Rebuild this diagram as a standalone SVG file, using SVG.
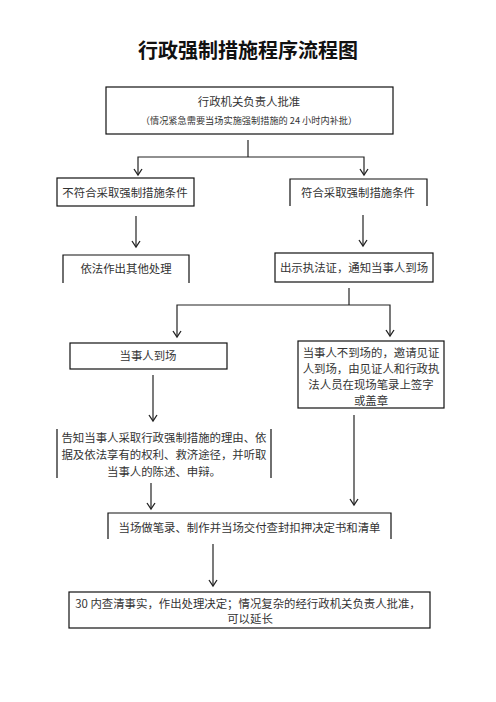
<svg xmlns="http://www.w3.org/2000/svg" width="496" height="702" viewBox="0 0 496 702">
<style>
.b{fill:none;stroke:#111;stroke-width:1.2}
.c{fill:none;stroke:#222;stroke-width:1.2}
.t{font-family:"Noto Sans CJK SC","Liberation Serif",sans-serif;font-size:11.4px;fill:#333;text-anchor:middle;dominant-baseline:central}
.s{font-size:9.2px}
.title{font-family:"Noto Sans CJK SC","Liberation Sans",sans-serif;font-size:20px;font-weight:bold;fill:#111;text-anchor:middle;dominant-baseline:central}
</style>
<defs>
<marker id="a" markerUnits="userSpaceOnUse" markerWidth="10" markerHeight="10" refX="8" refY="5" orient="auto" viewBox="0 0 10 10">
<path d="M2,1 L8,5 L2,9" fill="none" stroke="#222" stroke-width="1.3"/>
</marker>
</defs>
<rect width="496" height="702" fill="#fff"/>
<text class="title" x="248" y="49">行政强制措施程序流程图</text>

<g id="connectors">
<path class="c" d="M248,140 V157"/>
<path class="c" d="M248,157 H138 V175" marker-end="url(#a)"/>
<path class="c" d="M248,157 H364 V175" marker-end="url(#a)"/>
<path class="c" d="M136,216 V247" marker-end="url(#a)"/>
<path class="c" d="M363,215 V246" marker-end="url(#a)"/>
<path class="c" d="M349,288 V305"/>
<path class="c" d="M349,305 H177 V337" marker-end="url(#a)"/>
<path class="c" d="M349,305 H390 V336" marker-end="url(#a)"/>
<path class="c" d="M153,375 V421" marker-end="url(#a)"/>
<path class="c" d="M354,415 V505" marker-end="url(#a)"/>
<path class="c" d="M151,483 V509" marker-end="url(#a)"/>
<path class="c" d="M213,544 V586" marker-end="url(#a)"/>
</g>

<g id="n1">
<rect class="b" x="106" y="87" width="287" height="47"/>
<text class="t" x="249" y="101">行政机关负责人批准</text>
<text class="t s" x="249" y="120">（情况紧急需要当场实施强制措施的 24 小时内补批）</text>
</g>
<g id="n2">
<rect class="b" x="57" y="178" width="137" height="28"/>
<text class="t" x="125" y="192">不符合采取强制措施条件</text>
</g>
<g id="n3">
<path class="b" d="M290,206 V179 H427 V206"/>
<text class="t" x="358" y="192">符合采取强制措施条件</text>
</g>
<g id="n4">
<path class="b" d="M63,283 V255 H189 V283"/>
<text class="t" x="126" y="268">依法作出其他处理</text>
</g>
<g id="n5">
<rect class="b" x="275" y="253" width="158" height="29"/>
<text class="t" x="354" y="267">出示执法证，通知当事人到场</text>
</g>
<g id="n6">
<rect class="b" x="70" y="343" width="157" height="26"/>
<text class="t" x="148" y="355">当事人到场</text>
</g>
<g id="n7">
<rect class="b" x="298" y="341" width="146" height="67"/>
<text class="t" x="371" y="352">当事人不到场的，邀请见证</text>
<text class="t" x="371" y="368">人到场，由见证人和行政执</text>
<text class="t" x="371" y="384">法人员在现场笔录上签字</text>
<text class="t" x="371" y="400">或盖章</text>
</g>
<g id="n8">
<path class="b" d="M57,429 V478 M271,429 V478"/>
<text class="t" x="164" y="437">告知当事人采取行政强制措施的理由、依</text>
<text class="t" x="164" y="454">据及依法享有的权利、救济途径，并听取</text>
<text class="t" x="164" y="471">当事人的陈述、申辩。</text>
</g>
<g id="n9">
<path class="b" d="M108,539 V513 H391 V539"/>
<text class="t" x="249.5" y="527">当场做笔录、制作并当场交付查封扣押决定书和清单</text>
</g>
<g id="n10">
<rect class="b" x="69" y="592" width="361" height="36"/>
<text class="t" x="248" y="603">30 内查清事实，作出处理决定；情况复杂的经行政机关负责人批准，</text>
<text class="t" x="250" y="618">可以延长</text>
</g>
</svg>
